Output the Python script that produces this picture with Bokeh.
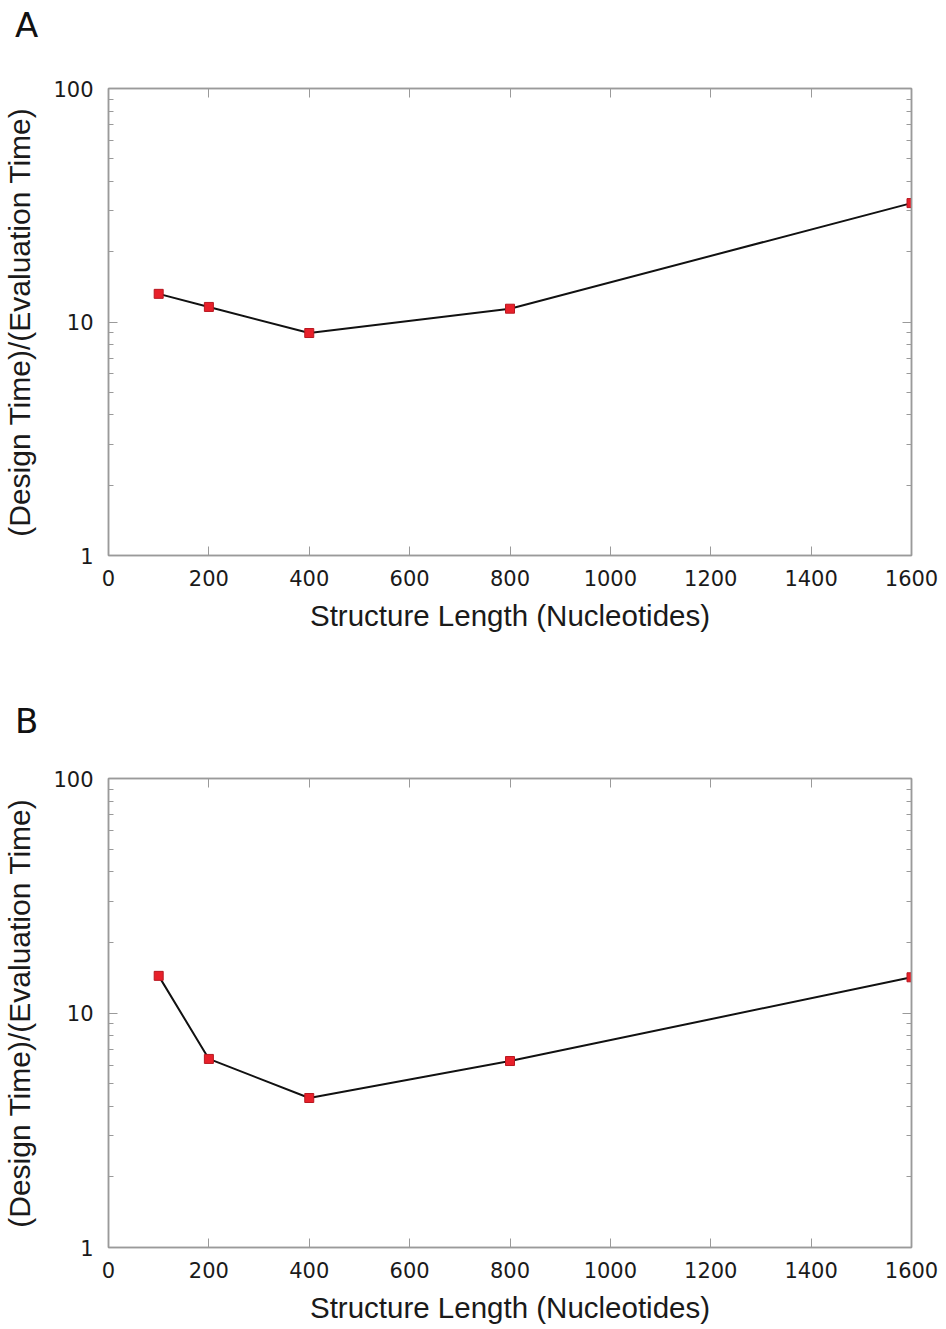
from bokeh.plotting import figure
from bokeh.layouts import column
from bokeh.models import (FixedTicker, LinearAxis, LogAxis, NumeralTickFormatter, Div, Range1d)
from bokeh.embed import file_html
from bokeh.resources import INLINE

lengths = [100, 200, 400, 800, 1600]
ratio_a = [13.2, 11.6, 8.97, 11.4, 32.3]
ratio_b = [14.4, 6.37, 4.34, 6.24, 14.2]
x_ticks = [0, 200, 400, 600, 800, 1000, 1200, 1400, 1600]
y_ticks = [1, 10, 100]
y_minor = [2, 3, 4, 5, 6, 7, 8, 9, 20, 30, 40, 50, 60, 70, 80, 90]
x_label = "Structure Length (Nucleotides)"
y_label = "(Design Time)/(Evaluation Time)"

FRAME = "#9a9a9a"


def style_axis(ax, show_labels, is_y):
    ax.axis_line_color = FRAME
    ax.axis_line_width = 1.5
    ax.major_tick_line_color = FRAME
    ax.minor_tick_line_color = FRAME
    ax.major_tick_in = 9
    ax.major_tick_out = 0
    ax.minor_tick_in = 5 if is_y else 0
    ax.minor_tick_out = 0
    ax.major_label_text_font = "DejaVu Sans"
    ax.major_label_text_font_size = "21px"
    ax.major_label_text_color = "#1a1a1a"
    ax.major_label_standoff = 15 if is_y else 14
    if not show_labels:
        ax.major_label_text_alpha = 0
        ax.major_label_text_font_size = "1px"
        ax.major_label_standoff = 0


def make(xs, ys, h, top, bottom, left, right):
    p = figure(width=946, height=h, y_axis_type="log",
               x_range=Range1d(0, 1600), y_range=Range1d(1, 100),
               output_backend="svg", toolbar_location=None,
               min_border_top=top, min_border_bottom=bottom,
               min_border_left=left, min_border_right=right, margin=0)
    p.xgrid.visible = False
    p.ygrid.visible = False
    p.outline_line_color = FRAME
    p.outline_line_width = 1.5

    p.xaxis.ticker = FixedTicker(ticks=x_ticks, minor_ticks=[])
    p.yaxis.ticker = FixedTicker(ticks=y_ticks, minor_ticks=y_minor)
    p.yaxis.formatter = NumeralTickFormatter(format="0")
    for ax in p.xaxis:
        style_axis(ax, True, False)
        ax.axis_label = x_label
        ax.axis_label_text_font = "Liberation Sans"
        ax.axis_label_text_font_style = "normal"
        ax.axis_label_text_font_size = "29.5px"
        ax.axis_label_text_color = "#1a1a1a"
        ax.axis_label_standoff = 10
    for ax in p.yaxis:
        style_axis(ax, True, True)
        ax.axis_label = y_label
        ax.axis_label_text_font = "Liberation Sans"
        ax.axis_label_text_font_style = "normal"
        ax.axis_label_text_font_size = "30px"
        ax.axis_label_text_color = "#1a1a1a"
        ax.axis_label_standoff = 14

    top_ax = LinearAxis(ticker=FixedTicker(ticks=x_ticks, minor_ticks=[]))
    style_axis(top_ax, False, False)
    p.add_layout(top_ax, "above")
    right_ax = LogAxis(ticker=FixedTicker(ticks=y_ticks, minor_ticks=y_minor))
    style_axis(right_ax, False, True)
    p.add_layout(right_ax, "right")

    p.line(xs, ys, line_color="#111111", line_width=2)
    p.scatter(xs, ys, marker="square", size=9, fill_color="#e8202a",
              line_color="#b81820", line_width=1)
    return p


def letter_div(letter, h, pad_top, pad_left):
    return Div(text=letter, width=946, height=h, margin=0,
               styles={"font-family": "DejaVu Sans", "font-size": "34px",
                       "line-height": "34px", "color": "#111111",
                       "padding-top": f"{pad_top}px", "padding-left": f"{pad_left}px",
                       "box-sizing": "border-box"})


da = letter_div("A", 50, 8, 15)
pa = make(lengths, ratio_a, 615, 38, 110, 106, 33)
db = letter_div("B", 80, 39, 15)
pb = make(lengths, ratio_b, 584, 33, 82, 104, 35)

layout = column(da, pa, db, pb, spacing=0)
open("out.html", "w").write(file_html(layout, INLINE))
